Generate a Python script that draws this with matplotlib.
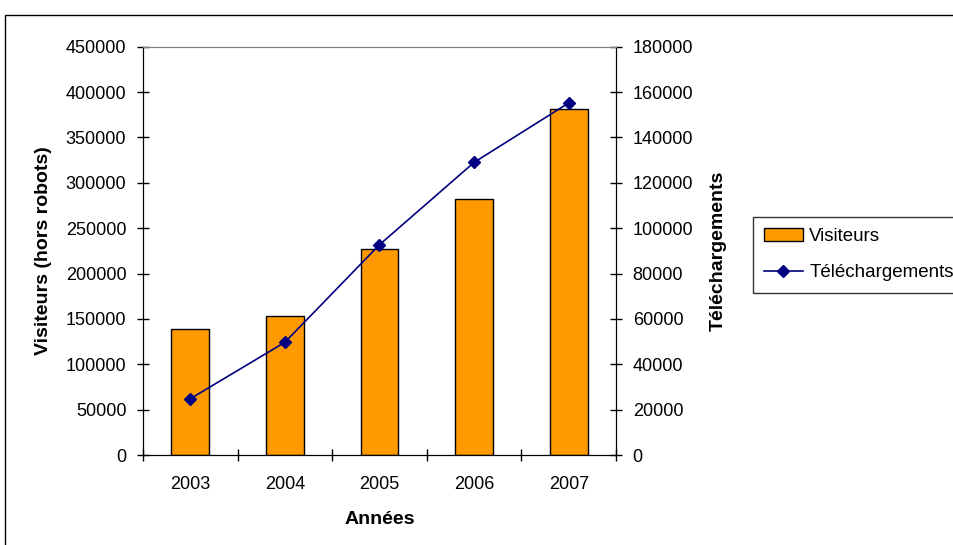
import matplotlib.pyplot as plt
import numpy as np
from matplotlib.patches import Rectangle

plt.rcParams['font.family'] = ['Liberation Sans', 'DejaVu Sans']

annees = ['2003', '2004', '2005', '2006', '2007']
visiteurs = [139000, 153000, 227000, 282000, 381000]
telechargements = [24800, 49700, 92700, 129000, 155200]

W, H = 954, 545
fig = plt.figure(figsize=(W / 100, H / 100), dpi=100)

# chart area border (cut at the right and bottom like the source)
fig.patches.append(Rectangle((5 / W, -0.1), 1.2, 1.1 - 15 / H, transform=fig.transFigure,
                             fill=False, edgecolor='black', linewidth=1.0))

ax1 = fig.add_axes([143 / W, 1 - 455 / H, (616 - 143) / W, (455 - 46.7) / H])
x = np.arange(len(annees))
ax1.bar(x, visiteurs, width=0.4, color='#FF9900', edgecolor='black', linewidth=1.0,
        label='Visiteurs', zorder=2)
ax1.set_xlim(-0.5, len(annees) - 0.5)
ax1.set_ylim(0, 450000)
ax1.set_yticks(np.arange(0, 450001, 50000))
ax1.set_xticks(x)
ax1.set_xticklabels(annees)
ax1.set_xticks(np.arange(-0.5, len(annees), 1), minor=True)
ax1.tick_params(axis='x', which='major', length=0, labelsize=13, pad=15)
ax1.tick_params(axis='x', which='minor', direction='inout', length=8, width=1)
ax1.tick_params(axis='y', direction='inout', length=8, width=1, labelsize=13, pad=8)
ax1.set_xlabel('Années', fontsize=14, fontweight='bold', labelpad=13)
ax1.set_ylabel('Visiteurs (hors robots)', fontsize=14, fontweight='bold', labelpad=10)
ax1.spines['top'].set_color('#808080')
for s in ['left', 'bottom']:
    ax1.spines[s].set_color('black')

ax2 = ax1.twinx()
ax2.plot(x, telechargements, color='#000080', marker='D', markersize=6, linewidth=1.2,
         label='Téléchargements', zorder=3)
ax2.set_ylim(0, 180000)
ax2.set_yticks(np.arange(0, 180001, 20000))
ax2.tick_params(axis='y', direction='inout', length=8, width=1, labelsize=13, pad=8)
ax2.set_ylabel('Téléchargements', fontsize=14, fontweight='bold', labelpad=12)
ax2.spines['top'].set_color('#808080')
ax2.spines['right'].set_color('black')

h1, l1 = ax1.get_legend_handles_labels()
h2, l2 = ax2.get_legend_handles_labels()
fig.legend(h1 + h2, l1 + l2, loc='upper left', bbox_to_anchor=(753 / W, 1 - 217 / H),
           borderaxespad=0, fontsize=13.5, frameon=True, fancybox=False, edgecolor='black',
           handlelength=2.05, borderpad=0.6, labelspacing=1.0, handletextpad=0.35)

fig.savefig('out.png', dpi=100)
